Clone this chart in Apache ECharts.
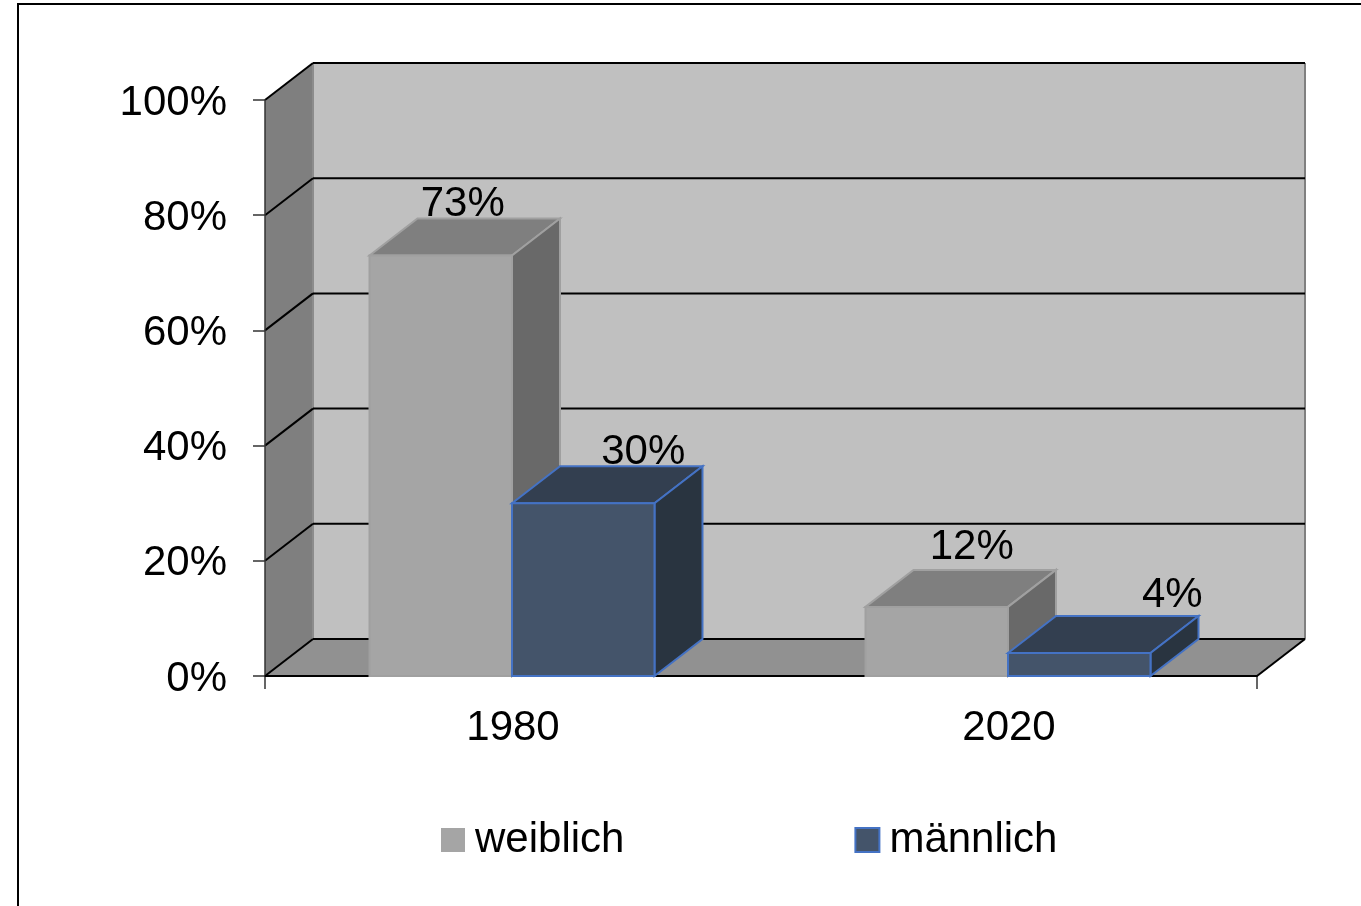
<!DOCTYPE html>
<html>
<head>
<meta charset="utf-8">
<title>Anteil weiblich / männlich</title>
<style>
  html, body { margin: 0; padding: 0; background: #fff; }
  #chart { width: 1361px; height: 906px; }
</style>
<script src="https://cdn.jsdelivr.net/npm/echarts@6/dist/echarts.min.js"></script>
</head>
<body>
<div id="chart"></div>
<script>
var categories = ['1980', '2020']
var yTicks = [0, 20, 40, 60, 80, 100]
var weiblich = [73, 12]
var maennlich = [30, 4]

// hand placed labels in the original, shift from the front face centre
var weiblichLabelShift = [[22, 0], [35, -8]]
var maennlichLabelShift = [[60, 0], [93, -7]]

var fontName = '"Liberation Sans", Arial, sans-serif'
var fontSize = 42
var depthX = 48
var depthY = 37
var barShare = 142.5 / 496

var weiblichColors = { front: '#a5a5a5', top: '#7f7f7f', side: '#696969', line: '#a0a0a0' }
var maennlichColors = { front: '#44546a', top: '#333f50', side: '#293440', line: '#4472c4' }

function poly(points, fill, stroke, lineWidth) {
  return {
    type: 'polygon',
    shape: { points: points },
    style: { fill: fill, stroke: stroke || null, lineWidth: lineWidth || 0 }
  }
}

function line(x1, y1, x2, y2, color, width) {
  return {
    type: 'line',
    shape: { x1: x1, y1: y1, x2: x2, y2: y2 },
    style: { stroke: color, lineWidth: width }
  }
}

// back wall, side wall, floor and the two outer ticks of the category axis
function renderWalls(params) {
  var g = params.coordSys
  var l = g.x, r = g.x + g.width, t = g.y, b = g.y + g.height
  return {
    type: 'group',
    children: [
      poly([[l + depthX, t - depthY], [r + depthX, t - depthY], [r + depthX, b - depthY], [l + depthX, b - depthY]], '#c0c0c0'),
      poly([[l, t], [l + depthX, t - depthY], [l + depthX, b - depthY], [l, b]], '#7f7f7f'),
      poly([[l, b], [l + depthX, b - depthY], [r + depthX, b - depthY], [r, b]], '#919191'),
      line(l + depthX, t - depthY, l + depthX, b - depthY, '#8c8c8c', 2),
      line(r + depthX, t - depthY, r + depthX, b - depthY, '#808080', 2),
      line(r, b, r + depthX, b - depthY, '#000', 2),
      line(l, b, l, b + 13, '#333', 1.5),
      line(r, b, r, b + 13, '#333', 1.5)
    ]
  }
}

// one line along the side wall and one along the back wall per tick
function renderGridLine(params, api) {
  var g = params.coordSys
  var p = api.coord([0, api.value(1)])
  return {
    type: 'group',
    children: [
      line(g.x, p[1], g.x + depthX, p[1] - depthY, '#000', 2),
      line(g.x + depthX, p[1] - depthY, g.x + g.width + depthX, p[1] - depthY, '#000', 2)
    ]
  }
}

function makeBarRenderer(colors, side, shifts) {
  return function (params, api) {
    var idx = api.value(0)
    var val = api.value(1)
    var base = api.coord([idx, 0])
    var top = api.coord([idx, val])
    var w = api.size([1, 0])[0] * barShare
    var x0 = (side < 0 ? base[0] - w : base[0]) - 1
    var x1 = x0 + w
    var shift = shifts[params.dataIndex]
    return {
      type: 'group',
      children: [
        poly([[x0, top[1]], [x0 + depthX, top[1] - depthY], [x1 + depthX, top[1] - depthY], [x1, top[1]]], colors.top, colors.line, 2),
        poly([[x1, top[1]], [x1 + depthX, top[1] - depthY], [x1 + depthX, base[1] - depthY], [x1, base[1]]], colors.side, colors.line, 2),
        poly([[x0, top[1]], [x1, top[1]], [x1, base[1]], [x0, base[1]]], colors.front, colors.line, 2),
        {
          type: 'text',
          z2: 10,
          style: {
            text: val + '%',
            x: (x0 + x1) / 2 + shift[0],
            y: top[1] - depthY + shift[1] + 7,
            align: 'center',
            verticalAlign: 'bottom',
            fill: '#000',
            font: fontSize + 'px ' + fontName
          }
        }
      ]
    }
  }
}

function toItems(values) {
  return values.map(function (v, i) {
    return [i, v]
  })
}

var chart = echarts.init(document.getElementById('chart'))

chart.setOption({
  animation: false,
  backgroundColor: '#fff',
  textStyle: { fontFamily: fontName },
  graphic: [
    {
      type: 'rect',
      shape: { x: 18, y: 4, width: 1400, height: 960 },
      style: { fill: 'transparent', stroke: '#000', lineWidth: 2 },
      silent: true
    }
  ],
  grid: { left: 265, right: 104, top: 100, bottom: 230 },
  legend: {
    left: 436,
    top: 814,
    itemWidth: 24,
    itemHeight: 24,
    itemGap: 230,
    icon: 'rect',
    selectedMode: false,
    textStyle: { fontSize: fontSize, color: '#000', fontFamily: fontName, padding: [0, 0, 0, 5] },
    data: ['weiblich', 'männlich']
  },
  xAxis: {
    type: 'category',
    data: categories,
    z: 1,
    axisLine: { lineStyle: { color: '#000', width: 2 } },
    axisTick: { show: false },
    axisLabel: { fontSize: fontSize, color: '#000', margin: 31, fontFamily: fontName }
  },
  yAxis: {
    type: 'value',
    min: 0,
    max: 100,
    interval: 20,
    z: 1,
    splitLine: { show: false },
    axisLine: { show: true, lineStyle: { color: '#333', width: 1.5 } },
    axisTick: { show: true, length: 12, lineStyle: { color: '#333', width: 1.5 } },
    axisLabel: {
      color: '#000',
      margin: 38,
      formatter: '{t|{value}%}',
      rich: {
        t: { fontSize: fontSize, color: '#000', fontFamily: fontName, padding: [6, 0, 0, 0] }
      }
    }
  },
  series: [
    {
      name: 'Wand',
      type: 'custom',
      z: 0,
      silent: true,
      clip: false,
      renderItem: renderWalls,
      data: [[0, 0]]
    },
    {
      name: 'Raster',
      type: 'custom',
      z: 0,
      silent: true,
      clip: false,
      renderItem: renderGridLine,
      data: yTicks.map(function (t) {
        return [0, t]
      })
    },
    {
      name: 'weiblich',
      type: 'custom',
      z: 2,
      clip: false,
      itemStyle: { color: weiblichColors.front },
      renderItem: makeBarRenderer(weiblichColors, -1, weiblichLabelShift),
      data: toItems(weiblich)
    },
    {
      name: 'männlich',
      type: 'custom',
      z: 3,
      clip: false,
      itemStyle: { color: maennlichColors.front, borderColor: maennlichColors.line, borderWidth: 3 },
      renderItem: makeBarRenderer(maennlichColors, 1, maennlichLabelShift),
      data: toItems(maennlich)
    }
  ]
})
</script>
</body>
</html>
